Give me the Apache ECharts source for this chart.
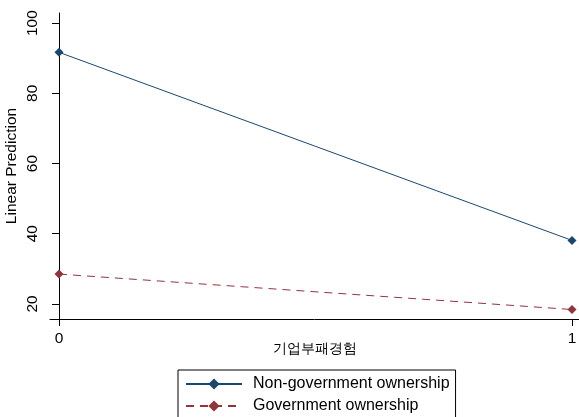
<!DOCTYPE html>
<html><head><meta charset="utf-8">
<script src="https://cdn.jsdelivr.net/npm/echarts@6/dist/echarts.min.js"></script>
<style>html,body{margin:0;padding:0;background:#fff}#c{width:579px;height:417px}</style>
</head><body><div id="c"></div>
<script>
const xValues = [0, 1];
const nonGov = [91.7, 38.1];
const gov = [28.5, 18.4];
const xTicks = [0, 1];
const yTicks = [20, 40, 60, 80, 100];
const seriesNames = ['Non-government ownership', 'Government ownership'];
const xTitle = '기업부패경험';
const yTitle = 'Linear Prediction';

const font = 'Liberation Sans, Arial, sans-serif';
const chart = echarts.init(document.getElementById('c'));
chart.setOption({
  animation: false,
  backgroundColor: '#fff',
  grid: {left: 50, right: 0, top: 13, bottom: 98, containLabel: false, outerBoundsMode: 'none'},
  xAxis: {
    type: 'value', min: -0.0175, max: 1.0136,
    name: xTitle, nameLocation: 'middle', nameGap: 23, nameMoveOverlap: false,
    nameTextStyle: {fontSize: 14, color: '#000'},
    axisLine: {show: true, lineStyle: {color: '#000', width: 1}},
    axisTick: {show: true, length: 7, customValues: xTicks, lineStyle: {color: '#000'}},
    axisLabel: {customValues: xTicks, margin: 12, fontFamily: font, fontSize: 15.5, color: '#000'},
    splitLine: {show: false}
  },
  yAxis: {
    type: 'value', min: 15.7, max: 102.9,
    name: yTitle, nameLocation: 'middle', nameGap: 30, nameRotate: 90, nameMoveOverlap: false,
    nameTextStyle: {fontFamily: font, fontSize: 15.5, color: '#000'},
    axisLine: {show: true, lineStyle: {color: '#000', width: 1}},
    axisTick: {show: true, length: 7, customValues: yTicks, lineStyle: {color: '#000'}},
    axisLabel: {customValues: yTicks, rotate: 90, margin: 9, fontFamily: font, fontSize: 15.5, color: '#000'},
    splitLine: {show: false}
  },
  legend: {
    orient: 'vertical', left: 178, top: 370, height: 80, width: 300,
    padding: [6, 6, 10, 7], itemGap: 6, itemWidth: 56, itemHeight: 14,
    borderColor: '#000', borderWidth: 1,
    textStyle: {fontFamily: font, fontSize: 16, color: '#000', padding: [0, 0, 0, 6]},
    data: seriesNames
  },
  series: [
    {name: seriesNames[0], type: 'line', data: xValues.map((x, i) => [x, nonGov[i]]),
     symbol: 'diamond', symbolSize: 9, itemStyle: {color: '#1a476f'},
     lineStyle: {color: '#1a476f', width: 1}},
    {name: seriesNames[1], type: 'line', data: xValues.map((x, i) => [x, gov[i]]),
     symbol: 'diamond', symbolSize: 9, itemStyle: {color: '#90353b'},
     lineStyle: {color: '#90353b', width: 1, type: [8, 6]}}
  ]
});
</script></body></html>
